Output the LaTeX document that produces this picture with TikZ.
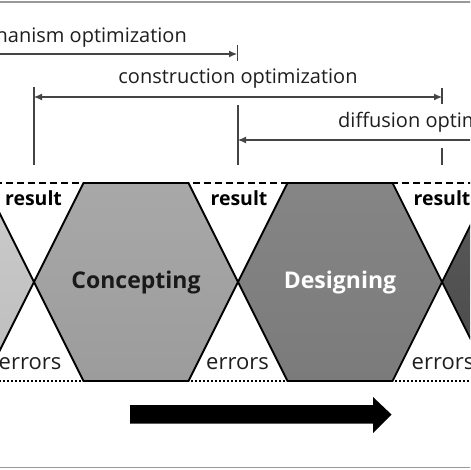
\documentclass[tikz,border=0pt]{standalone}
\usepackage{fontspec}
\setmainfont{Open Sans}
\usetikzlibrary{arrows.meta}
\definecolor{hexA1}{HTML}{CBCBCB}
\definecolor{hexA2}{HTML}{BDBDBD}
\definecolor{hexB1}{HTML}{A8A8A8}
\definecolor{hexB2}{HTML}{9C9C9C}
\definecolor{hexC1}{HTML}{858585}
\definecolor{hexC2}{HTML}{7B7B7B}
\definecolor{hexD1}{HTML}{5A5A5A}
\definecolor{hexD2}{HTML}{4A4A4A}
\definecolor{dimgray}{HTML}{444444}
\definecolor{txtgray}{HTML}{1E1E1E}
\begin{document}
\begin{tikzpicture}[x=1pt,y=-1pt,
  hexa/.pic={\path[pic actions] (-102,0) -- (-52.5,-99) -- (52.5,-99) -- (102,0) -- (52.5,99) -- (-52.5,99) -- cycle;},
  hexstyle/.style={draw=black, line width=1.8pt, line join=miter},
  lbl/.style={font=\fontsize{20}{24}\selectfont, text=txtgray, inner sep=0pt},
  errlbl/.style={font=\fontsize{22}{26}\selectfont, text=txtgray, inner sep=0pt},
  boldlbl/.style={font=\fontsize{19.5}{23}\selectfont\bfseries, text=black, inner sep=0pt},
  biglbl/.style={font=\fontsize{23}{27}\selectfont\bfseries, inner sep=0pt, anchor=base},
  dimline/.style={draw=dimgray, line width=1.1pt},
  tick/.style={draw=dimgray, line width=1.6pt},
  tipend/.style={-{Latex[length=8pt,width=7pt]}},
  tipstart/.style={{Latex[length=8pt,width=7pt]}-},
  tipboth/.style={{Latex[length=8pt,width=7pt]}-{Latex[length=8pt,width=7pt]}},
  frameline/.style={draw=gray!80, line width=1.4pt}
]
\useasboundingbox (0,0) rectangle (470,470);
\clip (0,0) rectangle (470,470);
\fill[white] (0,0) rectangle (470,470);

% frame lines
\draw[frameline] (-5,2) -- (475,2);
\draw[frameline] (-5,467.5) -- (475,467.5);

% result / errors boundary lines
\draw[black, line width=1.8pt, dash pattern=on 7pt off 4pt] (-5,183) -- (475,183);
\draw[black, line width=2pt, dash pattern=on 2pt off 2pt] (-5,381) -- (475,381);

% hexagons
\pic[hexstyle, top color=hexA1, bottom color=hexA2] at (-68,282) {hexa};
\pic[hexstyle, top color=hexB1, bottom color=hexB2] at (136,282) {hexa};
\pic[hexstyle, top color=hexC1, bottom color=hexC2] at (340,282) {hexa};
\pic[hexstyle, top color=hexD1, bottom color=hexD2] at (544,282) {hexa};

\node[biglbl, text=black!90] (concepting) at (136,288) {Concepting};
\node[biglbl, text=white] (designing) at (340,288) {Designing};

\node[boldlbl, anchor=base] (res1) at (33.5,205) {result};
\node[boldlbl, anchor=base] (res2) at (239,205) {result};
\node[boldlbl, anchor=base] (res3) at (442,205) {result};
\node[errlbl, anchor=base] (err1) at (30,369) {errors};
\node[errlbl, anchor=base] (err2) at (237.5,369) {errors};
\node[errlbl, anchor=base] (err3) at (443,369) {errors};

% dimension coordinates
\coordinate (m0) at (-10,54);
\coordinate (m1) at (237,54);
\coordinate (c0) at (34,97);
\coordinate (c1) at (442,97);
\coordinate (d0) at (238,140);
\coordinate (d1) at (480,140);

% ticks
\draw[tick] (237.5,45) -- (237.5,61);
\draw[tick] (238,105) -- (238,165);
\draw[tick] (34,87) -- (34,165);
\draw[tick] (442,88) -- (442,104);
\draw[tick] (442,148) -- (442,165);

% dimension arrows
\draw[dimline, tipend] (m0) -- (m1);
\draw[dimline, tipboth] (c0) -- (c1);
\draw[dimline, tipstart] (d0) -- (d1);

\node[lbl, anchor=base east] (mech) at (187,43) {mechanism optimization};
\node[lbl, anchor=base] (constr) at (238,84) {construction optimization};
\node[lbl, anchor=base west] (diff) at (338,128) {diffusion optimization};

% big process arrow
\fill[black] (130,405) -- (373,405) -- (373,397) -- (391.5,414.5) -- (373,433) -- (373,423.5) -- (130,423.5) -- cycle;
\end{tikzpicture}
\end{document}
